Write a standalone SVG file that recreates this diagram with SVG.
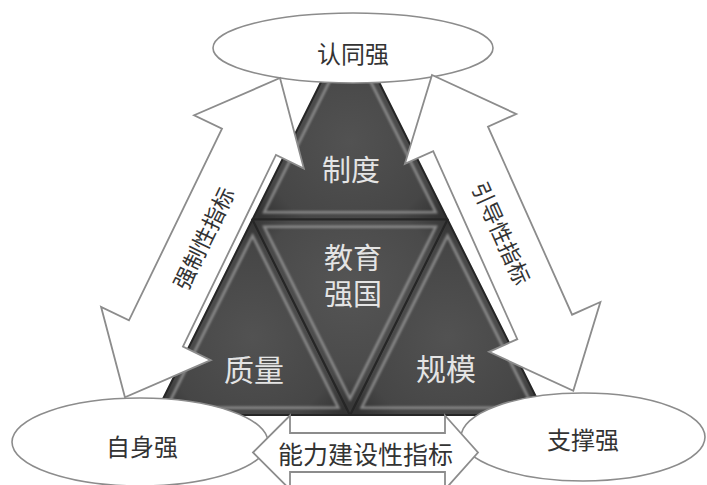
<svg xmlns="http://www.w3.org/2000/svg" width="707" height="485" viewBox="0 0 707 485">
<style>
  .tri{stroke:#262626;stroke-width:2;stroke-linejoin:round}
  .bev{fill:none;stroke:#a8a8a8;stroke-width:3;opacity:0.7;filter:url(#soft)}
  .inner{fill:#e4e4e4;font-family:"Noto Sans CJK SC","Noto Sans",sans-serif;font-size:30px;text-anchor:middle;dominant-baseline:central}
  .oval{fill:#ffffff;stroke:#8c8c8c;stroke-width:1.6}
  .arrow{fill:#ffffff;stroke:#8c8c8c;stroke-width:1.8;stroke-linejoin:miter}
  .lbl{fill:#333333;font-family:"Noto Sans CJK SC","Noto Sans",sans-serif;text-anchor:middle;dominant-baseline:central}
</style>
<defs>
  <filter id="soft" x="-10%" y="-10%" width="120%" height="120%"><feGaussianBlur stdDeviation="1.1"/></filter>
  <radialGradient id="g1" cx="0.5" cy="0.6" r="0.6">
    <stop offset="0" stop-color="#525252"/>
    <stop offset="0.75" stop-color="#464646"/>
    <stop offset="1" stop-color="#333333"/>
  </radialGradient>
  <radialGradient id="g2" cx="0.5" cy="0.35" r="0.6">
    <stop offset="0" stop-color="#555555"/>
    <stop offset="0.75" stop-color="#4a4a4a"/>
    <stop offset="1" stop-color="#383838"/>
  </radialGradient>
</defs>
<rect width="707" height="485" fill="#ffffff"/>

<g id="pyramid">
  <polygon points="350,24 155,415 545,415" fill="#2c2c2c" stroke="#c4c4c4" stroke-width="1.4"/>
  <g id="tri-top">
    <polygon class="tri" fill="url(#g1)" points="350,24 252.5,219.5 447.5,219.5"/>
    <polygon class="bev" points="350,24 252.5,219.5 447.5,219.5" transform="translate(350,159.2) scale(0.88) translate(-350,-159.2)"/>
    <text class="inner" x="351" y="168" style="font-size:29px">制度</text>
  </g>
  <g id="tri-left">
    <polygon class="tri" fill="url(#g1)" points="252.5,219.5 155,415 350,415"/>
    <polygon class="bev" points="252.5,219.5 155,415 350,415" transform="translate(252.5,354.7) scale(0.88) translate(-252.5,-354.7)"/>
    <text class="inner" x="254" y="368">质量</text>
  </g>
  <g id="tri-right">
    <polygon class="tri" fill="url(#g1)" points="447.5,219.5 350,415 545,415"/>
    <polygon class="bev" points="447.5,219.5 350,415 545,415" transform="translate(447.5,354.7) scale(0.88) translate(-447.5,-354.7)"/>
    <text class="inner" x="446" y="367">规模</text>
  </g>
  <g id="tri-center">
    <polygon class="tri" fill="url(#g2)" points="252.5,219.5 447.5,219.5 350,415"/>
    <polygon class="bev" points="252.5,219.5 447.5,219.5 350,415" transform="translate(350,279.8) scale(0.88) translate(-350,-279.8)"/>
    <text class="inner" style="font-size:29px"><tspan x="353" y="256">教育</tspan><tspan x="353" y="292">强国</tspan></text>
  </g>
</g>

<g id="node-rentong">
  <ellipse class="oval" cx="353" cy="48" rx="140" ry="35"/>
  <text class="lbl" x="353" y="52" font-size="24">认同强</text>
</g>
<g id="node-zishen">
  <ellipse class="oval" cx="140" cy="442" rx="128" ry="44"/>
  <text class="lbl" x="142" y="445" font-size="24">自身强</text>
</g>
<g id="node-zhicheng">
  <ellipse class="oval" cx="583" cy="437" rx="122" ry="44"/>
  <text class="lbl" x="583" y="438" font-size="24">支撑强</text>
</g>

<g id="connectors">
  <g id="arrow-left">
    <polygon class="arrow" transform="translate(280,78) rotate(115.9)" points="0,0 71,-61 71,-30 284,-30 284,-61 355,0 284,61 284,30 71,30 71,61"/>
    <text class="lbl" font-size="22" transform="translate(202.4,237.6) rotate(-64.1)">强制性指标</text>
  </g>
  <g id="arrow-right">
    <polygon class="arrow" transform="translate(432,75) rotate(65.9)" points="0,0 70,-61 70,-30 276,-30 276,-61 346,0 276,61 276,30 70,30 70,61"/>
    <text class="lbl" font-size="22" transform="translate(502.6,232.5) rotate(65.9)">引导性指标</text>
  </g>
  <g id="arrow-bottom">
    <polygon class="arrow" points="253,452.5 290,415.5 290,433 445,433 445,415.5 478,452.5 445,489.5 445,472 290,472 290,489.5"/>
    <text class="lbl" x="365.5" y="453" font-size="25">能力建设性指标</text>
  </g>
</g>
</svg>
